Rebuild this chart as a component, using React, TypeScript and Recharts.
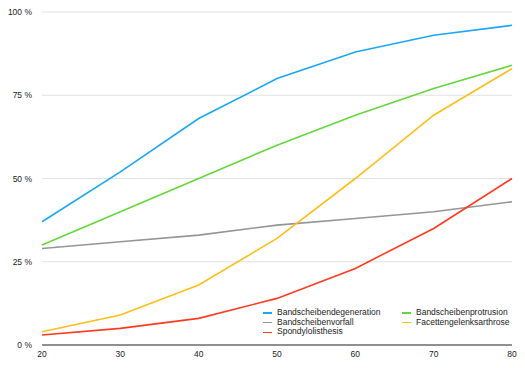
import { LineChart, Line, XAxis, YAxis, CartesianGrid } from "recharts";

const ages = [20, 30, 40, 50, 60, 70, 80];
const degeneration = [37, 52, 68, 80, 88, 93, 96];
const protrusion = [30, 40, 50, 60, 69, 77, 84];
const vorfall = [29, 31, 33, 36, 38, 40, 43];
const facetten = [4, 9, 18, 32, 50, 69, 83];
const spondylo = [3, 5, 8, 14, 23, 35, 50];
const yTicks = [0, 25, 50, 75, 100];

const series = [
  { key: "deg", name: "Bandscheibendegeneration", color: "#1BA6F5", values: degeneration },
  { key: "pro", name: "Bandscheibenprotrusion", color: "#65D63C", values: protrusion },
  { key: "vor", name: "Bandscheibenvorfall", color: "#959595", values: vorfall },
  { key: "fac", name: "Facettengelenksarthrose", color: "#FDBE1A", values: facetten },
  { key: "spo", name: "Spondylolisthesis", color: "#FF3A1E", values: spondylo },
];

const data = ages.map((age, i) => {
  const row: Record<string, number> = { age };
  series.forEach((s) => {
    row[s.key] = s.values[i];
  });
  return row;
});

const font = "'Liberation Sans', Arial, sans-serif";

function LegendBox() {
  return (
    <div
      style={{
        position: "absolute",
        left: 263,
        top: 308,
        display: "grid",
        gridTemplateColumns: "139px 140px",
        fontFamily: font,
        fontSize: 8.5,
        color: "#222",
        lineHeight: "9.7px",
      }}
    >
      {series.map((s) => (
        <div key={s.key} style={{ display: "flex", alignItems: "center" }}>
          <span style={{ display: "inline-block", width: 9, height: 1.5, background: s.color, marginRight: 5 }} />
          <span>{s.name}</span>
        </div>
      ))}
    </div>
  );
}

export default function App() {
  return (
    <div style={{ position: "absolute", left: 0, top: 0, width: 525, height: 368, background: "#fff" }}>
      <LineChart width={525} height={368} data={data} margin={{ top: 12, right: 13, left: 0, bottom: 0 }}>
        <CartesianGrid stroke="#e2e2e2" vertical={false} horizontalValues={[25, 50, 75, 100]} />
        <XAxis
          dataKey="age"
          type="number"
          domain={[20, 80]}
          ticks={ages}
          height={23}
          axisLine={{ stroke: "#222", strokeWidth: 1.2 }}
          tickLine={false}
          tickMargin={0}
          tick={{ fontSize: 8.5, fill: "#222", fontFamily: font }}
        />
        <YAxis
          domain={[0, 100]}
          ticks={yTicks}
          width={42}
          axisLine={false}
          tickLine={false}
          tickMargin={4}
          tickFormatter={(v: number) => `${v} %`}
          tick={{ fontSize: 8.5, fill: "#222", fontFamily: font }}
        />
        {series.map((s) => (
          <Line
            key={s.key}
            dataKey={s.key}
            name={s.name}
            stroke={s.color}
            strokeWidth={1.6}
            dot={false}
            type="linear"
            isAnimationActive={false}
          />
        ))}
      </LineChart>
      <LegendBox />
    </div>
  );
}
